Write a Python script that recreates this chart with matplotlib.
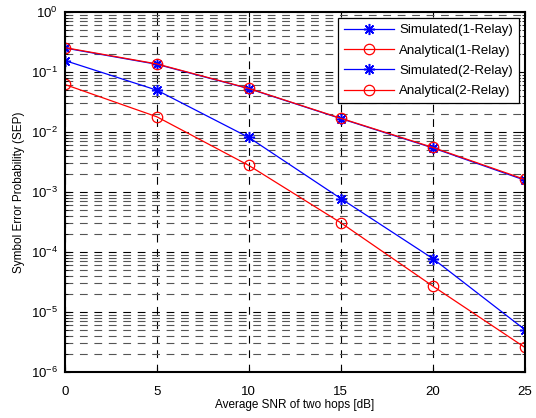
import numpy as np
import matplotlib
matplotlib.use("Agg")
import matplotlib.pyplot as plt

plt.rcParams['font.family'] = ['Liberation Sans', 'DejaVu Sans']
plt.rcParams['mathtext.default'] = 'regular'

# valeurs
snr_db = [0, 5, 10, 15, 20, 25]
sim_1relay = [0.252, 0.135, 0.0530, 0.0168, 0.00545, 0.00158]
ana_1relay = [0.256, 0.137, 0.0535, 0.0170, 0.00555, 0.00163]
sim_2relay = [0.156, 0.050, 0.00815, 0.00078, 7.8e-05, 5.1e-06]
ana_2relay = [0.0622, 0.018, 0.00278, 0.000308, 2.71e-05, 2.58e-06]

star = (8, 2, 0)  # asterisque facon MATLAB

fig = plt.figure(figsize=(5.36, 4.18), dpi=100)
ax = fig.add_axes([0.121, 0.110, 0.858, 0.861])

ax.semilogy(snr_db, sim_1relay, 'b-', marker=star, lw=0.9, ms=8, mew=1.1, label="Simulated(1-Relay)")
ax.semilogy(snr_db, ana_1relay, 'r-o', lw=0.9, ms=7.5, mfc='none', mew=0.9, label="Analytical(1-Relay)")
ax.semilogy(snr_db, sim_2relay, 'b-', marker=star, lw=0.9, ms=8, mew=1.1, label="Simulated(2-Relay)")
ax.semilogy(snr_db, ana_2relay, 'r-o', lw=0.9, ms=7.5, mfc='none', mew=0.9, label="Analytical(2-Relay)")

ax.set_xlim(0, 25)
ax.set_ylim(1e-6, 1)
ax.set_xticks(snr_db)
ax.grid(True, which='major', color='black', ls=(0, (7, 6)), lw=0.8)
ax.grid(True, which='minor', axis='y', color='#555555', ls=(0, (7, 6)), lw=0.8)
ax.tick_params(which='both', direction='in', top=True, right=True, labelsize=9.5)
ax.tick_params(axis='x', pad=10)
ax.tick_params(axis='y', pad=5)
for s in ax.spines.values():
    s.set_linewidth(1.5)

ax.set_xlabel("Average SNR of two hops [dB]", fontsize=8.5, labelpad=1)
ax.set_ylabel("Symbol Error Probability (SEP)", fontsize=8.5, labelpad=4)

leg = ax.legend(loc='upper right', fontsize=9.5, fancybox=False, framealpha=1,
                edgecolor='black', borderaxespad=0.45, handlelength=3.8,
                labelspacing=0.62, borderpad=0.45, handletextpad=0.4)
leg.get_frame().set_linewidth(0.9)

fig.savefig("out.png", dpi=100)
